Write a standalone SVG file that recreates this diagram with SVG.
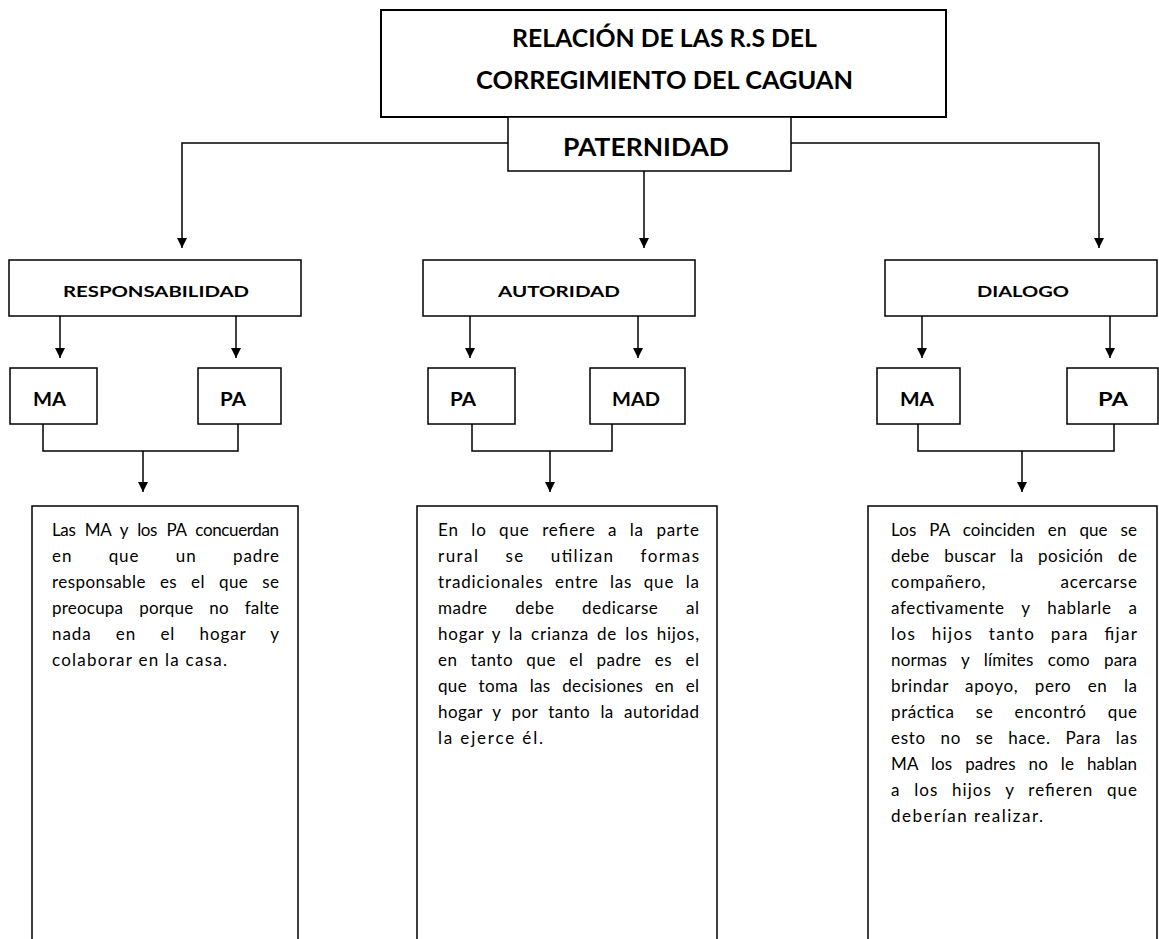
<svg xmlns="http://www.w3.org/2000/svg" width="1159" height="939" viewBox="0 0 1159 939">
<defs>
<marker id="ah" markerUnits="userSpaceOnUse" markerWidth="10" markerHeight="10" refX="10" refY="5" orient="auto">
<path d="M0,0 L10,5 L0,10 z" fill="#000"/>
</marker>
<style>
.box{fill:#fff;stroke:#000;stroke-width:1.5}
.open{fill:none;stroke:#000;stroke-width:1.5}
.conn{fill:none;stroke:#000;stroke-width:1.5}
.arr{fill:none;stroke:#000;stroke-width:1.5;marker-end:url(#ah)}
.h{font-family:Lato,"Liberation Sans",sans-serif;font-weight:700;fill:#000}
.t1{font-size:25px}
.t2{font-size:16px}
.t3{font-size:19px}
.b{font-family:Lato,"Liberation Sans",sans-serif;font-size:17px;fill:#000}
</style>
</defs>
<rect width="1159" height="939" fill="#fff"/>

<g id="connectors">
<polyline class="arr" points="508,143 182,143 182,248"/>
<polyline class="arr" points="791,143 1099,143 1099,248"/>
<line class="arr" x1="644" y1="171" x2="644" y2="248"/>
<line class="arr" x1="60" y1="316" x2="60" y2="358"/>
<line class="arr" x1="236" y1="316" x2="236" y2="358"/>
<polyline class="conn" points="43,424 43,451 238,451 238,424"/>
<line class="arr" x1="143" y1="451" x2="143" y2="492"/>
<line class="arr" x1="470" y1="316" x2="470" y2="358"/>
<line class="arr" x1="638" y1="316" x2="638" y2="358"/>
<polyline class="conn" points="472,424 472,451 612,451 612,424"/>
<line class="arr" x1="550" y1="451" x2="550" y2="492"/>
<line class="arr" x1="922" y1="316" x2="922" y2="358"/>
<line class="arr" x1="1110" y1="316" x2="1110" y2="358"/>
<polyline class="conn" points="918,424 918,451 1114,451 1114,424"/>
<line class="arr" x1="1022" y1="451" x2="1022" y2="492"/>
</g>

<g id="title">
<rect class="box" x="381" y="10" width="565" height="107" style="stroke-width:2"/>
<text class="h t1" x="664.5" y="47" text-anchor="middle" textLength="305" lengthAdjust="spacingAndGlyphs">RELACIÓN DE LAS R.S DEL</text>
<text class="h t1" x="664.5" y="89" text-anchor="middle" textLength="377" lengthAdjust="spacingAndGlyphs">CORREGIMIENTO DEL CAGUAN</text>
</g>

<g id="paternidad">
<rect class="box" x="508" y="117" width="283" height="54"/>
<text class="h t1" x="646" y="156" text-anchor="middle" textLength="166" lengthAdjust="spacingAndGlyphs">PATERNIDAD</text>
</g>

<g id="responsabilidad">
<rect class="box" x="9" y="260" width="292" height="56"/>
<text class="h t2" x="63" y="297" textLength="186" lengthAdjust="spacingAndGlyphs">RESPONSABILIDAD</text>
</g>
<g id="autoridad">
<rect class="box" x="423" y="260" width="272" height="56"/>
<text class="h t2" x="498" y="297" textLength="122" lengthAdjust="spacingAndGlyphs">AUTORIDAD</text>
</g>
<g id="dialogo">
<rect class="box" x="885" y="260" width="272" height="56"/>
<text class="h t2" x="977" y="297" textLength="92" lengthAdjust="spacingAndGlyphs">DIALOGO</text>
</g>

<g id="resp-ma">
<rect class="box" x="10" y="368" width="87" height="56"/>
<text class="h t3" x="33" y="406" textLength="33" lengthAdjust="spacingAndGlyphs">MA</text>
</g>
<g id="resp-pa">
<rect class="box" x="198" y="368" width="83" height="56"/>
<text class="h t3" x="220" y="406" textLength="26" lengthAdjust="spacingAndGlyphs">PA</text>
</g>
<g id="aut-pa">
<rect class="box" x="428" y="368" width="87" height="56"/>
<text class="h t3" x="450" y="406" textLength="26" lengthAdjust="spacingAndGlyphs">PA</text>
</g>
<g id="aut-mad">
<rect class="box" x="590" y="368" width="95" height="56"/>
<text class="h t3" x="612" y="406" textLength="48" lengthAdjust="spacingAndGlyphs">MAD</text>
</g>
<g id="dia-ma">
<rect class="box" x="877" y="368" width="83" height="56"/>
<text class="h t3" x="900" y="406" textLength="34" lengthAdjust="spacingAndGlyphs">MA</text>
</g>
<g id="dia-pa">
<rect class="box" x="1067" y="368" width="91" height="56"/>
<text class="h t3" x="1098" y="406" textLength="30" lengthAdjust="spacingAndGlyphs">PA</text>
</g>

<g id="texto-responsabilidad">
<path class="open" d="M32,945 V506 H298 V945"/>
<text class="b" x="52" y="536" textLength="227" lengthAdjust="spacing" word-spacing="5.4">Las MA y los PA concuerdan</text>
<text class="b" x="52" y="562" textLength="227" lengthAdjust="spacing" word-spacing="31">en que un padre</text>
<text class="b" x="52" y="588" textLength="227" lengthAdjust="spacing" word-spacing="9.2">responsable es el que se</text>
<text class="b" x="52" y="614" textLength="227" lengthAdjust="spacing" word-spacing="11.3">preocupa porque no falte</text>
<text class="b" x="52" y="640" textLength="227" lengthAdjust="spacing" word-spacing="19">nada en el hogar y</text>
<text class="b" x="52" y="666" textLength="175" lengthAdjust="spacing">colaborar en la casa.</text>
</g>

<g id="texto-autoridad">
<path class="open" d="M417,945 V506 H717 V945"/>
<text class="b" x="438" y="536" textLength="261" lengthAdjust="spacing" word-spacing="7.3">En lo que refiere a la parte</text>
<text class="b" x="438" y="562" textLength="261" lengthAdjust="spacing" word-spacing="20.3">rural se utilizan formas</text>
<text class="b" x="438" y="588" textLength="261" lengthAdjust="spacing" word-spacing="6.2">tradicionales entre las que la</text>
<text class="b" x="438" y="614" textLength="261" lengthAdjust="spacing" word-spacing="22.6">madre debe dedicarse al</text>
<text class="b" x="438" y="640" textLength="261" lengthAdjust="spacing" word-spacing="3">hogar y la crianza de los hijos,</text>
<text class="b" x="438" y="666" textLength="261" lengthAdjust="spacing" word-spacing="8.4">en tanto que el padre es el</text>
<text class="b" x="438" y="692" textLength="261" lengthAdjust="spacing" word-spacing="6.9">que toma las decisiones en el</text>
<text class="b" x="438" y="718" textLength="261" lengthAdjust="spacing" word-spacing="5.6">hogar y por tanto la autoridad</text>
<text class="b" x="438" y="744" textLength="105" lengthAdjust="spacing">la ejerce él.</text>
</g>

<g id="texto-dialogo">
<path class="open" d="M868,945 V506 H1157 V945"/>
<text class="b" x="891" y="536" textLength="246" lengthAdjust="spacing" word-spacing="8.4">Los PA coinciden en que se</text>
<text class="b" x="891" y="562" textLength="246" lengthAdjust="spacing" word-spacing="9.8">debe buscar la posición de</text>
<text class="b" x="891" y="588" textLength="246" lengthAdjust="spacing" word-spacing="69">compañero, acercarse</text>
<text class="b" x="891" y="614" textLength="246" lengthAdjust="spacing" word-spacing="12">afectivamente y hablarle a</text>
<text class="b" x="891" y="640" textLength="246" lengthAdjust="spacing" word-spacing="9.8">los hijos tanto para fijar</text>
<text class="b" x="891" y="666" textLength="246" lengthAdjust="spacing" word-spacing="9.8">normas y límites como para</text>
<text class="b" x="891" y="692" textLength="246" lengthAdjust="spacing" word-spacing="11.4">brindar apoyo, pero en la</text>
<text class="b" x="891" y="718" textLength="246" lengthAdjust="spacing" word-spacing="16.3">práctica se encontró que</text>
<text class="b" x="891" y="744" textLength="246" lengthAdjust="spacing" word-spacing="9.7">esto no se hace. Para las</text>
<text class="b" x="891" y="770" textLength="246" lengthAdjust="spacing" word-spacing="8.4">MA los padres no le hablan</text>
<text class="b" x="891" y="796" textLength="246" lengthAdjust="spacing" word-spacing="8.4">a los hijos y refieren que</text>
<text class="b" x="891" y="822" textLength="152" lengthAdjust="spacing">deberían realizar.</text>
</g>
</svg>
